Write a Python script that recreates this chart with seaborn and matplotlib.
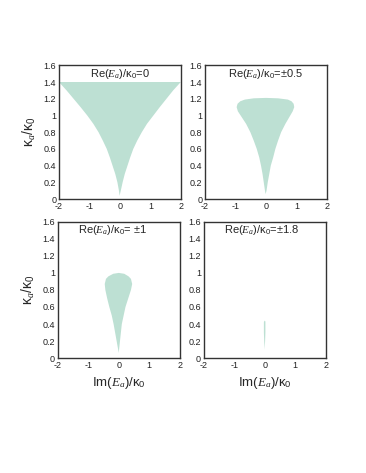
import numpy as np
import seaborn as sns
import matplotlib.pyplot as plt
from matplotlib.ticker import FormatStrFormatter

# boundary outlines (kappa_a/kappa_0, Im(E_a)/kappa_0) of the shaded regions
k_re0 = [0.04, 0.1, 0.2, 0.3, 0.4, 0.5, 0.6, 0.7, 0.8, 0.9, 1.0, 1.1, 1.2, 1.3, 1.4,
         1.4, 1.3, 1.2, 1.1, 1.0, 0.9, 0.8, 0.7, 0.6, 0.5, 0.4, 0.3, 0.2, 0.1]
im_re0 = [-0.01, -0.03, -0.08, -0.15, -0.24, -0.33, -0.43, -0.56, -0.70, -0.87,
          -1.07, -1.29, -1.52, -1.75, -2.0,
          2.0, 1.75, 1.53, 1.31, 1.10, 0.89, 0.72, 0.57, 0.44, 0.34, 0.25, 0.16, 0.09, 0.03]

k_re05 = [0.06, 0.1, 0.2, 0.3, 0.4, 0.5, 0.6, 0.7, 0.8, 0.9, 1.0, 1.05, 1.1, 1.14,
          1.17, 1.19, 1.205, 1.21, 1.205, 1.19, 1.17, 1.14, 1.1, 1.05, 1.0, 0.9,
          0.8, 0.7, 0.6, 0.5, 0.4, 0.3, 0.2, 0.1]
im_re05 = [-0.01, -0.03, -0.07, -0.11, -0.16, -0.22, -0.30, -0.40, -0.51, -0.65,
           -0.83, -0.92, -0.96, -0.93, -0.84, -0.69, -0.4, 0.0, 0.4, 0.72, 0.84,
           0.91, 0.93, 0.88, 0.80, 0.64, 0.50, 0.40, 0.31, 0.24, 0.16, 0.11, 0.06, 0.02]

k_re1 = [0.06, 0.1, 0.2, 0.3, 0.4, 0.5, 0.6, 0.7, 0.8, 0.87, 0.93, 0.96, 0.99, 1.0,
         0.99, 0.96, 0.93, 0.87, 0.8, 0.7, 0.6, 0.5, 0.4, 0.3, 0.2, 0.1]
im_re1 = [-0.01, -0.02, -0.07, -0.12, -0.17, -0.23, -0.31, -0.38, -0.44, -0.46,
          -0.42, -0.34, -0.18, 0.0, 0.18, 0.32, 0.40, 0.44, 0.40, 0.31, 0.22,
          0.16, 0.10, 0.07, 0.04, 0.01]

k_re18 = [0.1, 0.2, 0.3, 0.42, 0.44, 0.43, 0.3, 0.2]
im_re18 = [-0.005, -0.02, -0.03, -0.03, -0.01, 0.02, 0.02, 0.01]

titles = ["Re($E_a$)/κ$_0$=0", "Re($E_a$)/κ$_0$=±0.5",
          "Re($E_a$)/κ$_0$= ±1", "Re($E_a$)/κ$_0$=±1.8"]
title_x = [0.0, 0.0, -0.2, -0.1]

sns.set_theme(style="white")
plt.rcParams['font.family'] = ['Liberation Sans', 'DejaVu Sans']
plt.rcParams['mathtext.fontset'] = 'custom'
plt.rcParams['mathtext.rm'] = 'Liberation Sans'
plt.rcParams['mathtext.it'] = 'Liberation Serif:italic'
plt.rcParams['axes.unicode_minus'] = False

fig = plt.figure(figsize=(3.66, 4.73), dpi=100)
pos = [[0.161, 0.579, 0.333, 0.283], [0.560, 0.579, 0.333, 0.283],
       [0.158, 0.243, 0.333, 0.288], [0.557, 0.243, 0.333, 0.288]]
shapes = [(im_re0, k_re0), (im_re05, k_re05), (im_re1, k_re1), (im_re18, k_re18)]
fill = "#bde0d3"

for i in range(4):
    ax = fig.add_axes(pos[i])
    xs, ys = shapes[i]
    ax.fill(xs, ys, color=fill, lw=0)
    ax.set_xlim(-2, 2)
    ax.set_ylim(0, 1.6)
    ax.set_xticks([-2, -1, 0, 1, 2])
    ax.set_yticks(np.arange(0, 1.61, 0.2))
    ax.yaxis.set_major_formatter(FormatStrFormatter('%g'))
    ax.tick_params(labelsize=6.5, length=0, pad=2, colors='#222222')
    for s in ax.spines.values():
        s.set_color('#333333')
        s.set_linewidth(1.0)
    ax.text(title_x[i], 1.5, titles[i], ha='center', va='center', fontsize=8)
    if i % 2 == 0:
        ax.set_ylabel("κ$_a$/κ$_0$", fontsize=10, labelpad=4)
    if i >= 2:
        ax.set_xlabel("Im($E_a$)/κ$_0$", fontsize=9.5, labelpad=4)

fig.savefig("out.png", dpi=100)
